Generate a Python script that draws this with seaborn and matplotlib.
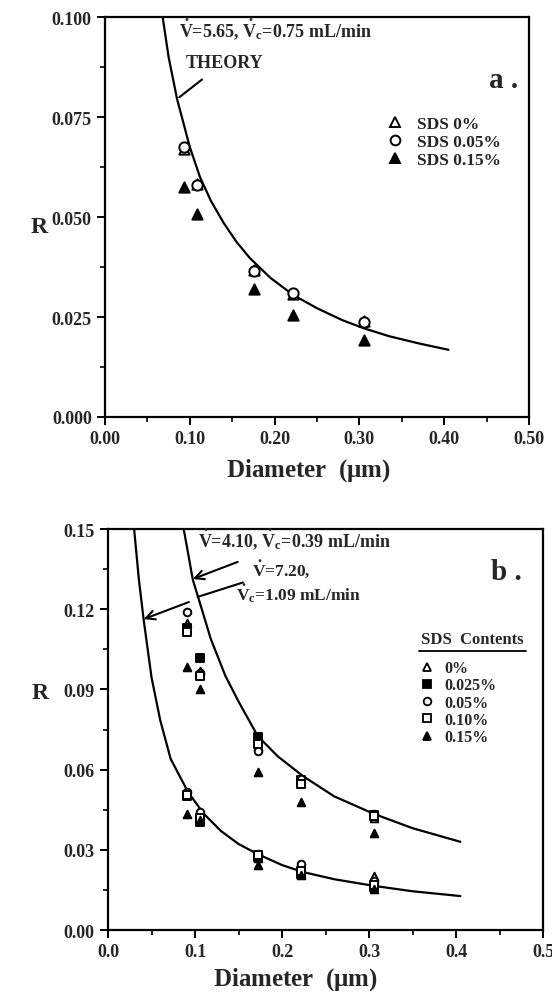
import matplotlib
matplotlib.use("Agg")
import matplotlib.pyplot as plt
from matplotlib.lines import Line2D
from matplotlib.ticker import MultipleLocator, FormatStrFormatter
import seaborn as sns

a_diam = [0.093, 0.108, 0.176, 0.222, 0.305]
a_sds0 = [0.0670, 0.0582, 0.0368, 0.0308, 0.0240]
a_sds005 = [0.0675, 0.0580, 0.0365, 0.0310, 0.0238]
a_sds015 = [0.0575, 0.0507, 0.0320, 0.0255, 0.0193]

# theory curve, panel a
a_theory_d = [0.068, 0.075, 0.085, 0.100, 0.112, 0.125, 0.140, 0.155, 0.171,
              0.195, 0.222, 0.250, 0.280, 0.305, 0.335, 0.370, 0.405]
a_theory_r = [0.100, 0.090, 0.0795, 0.0675, 0.0600, 0.0540, 0.0485, 0.0438, 0.0397,
              0.0348, 0.0305, 0.0272, 0.0242, 0.0222, 0.0202, 0.0184, 0.0168]

# ---- panel b: measured points ----
b_diam = [0.091, 0.106, 0.172, 0.222, 0.306]
# V=4.10, Vc=0.39 mL/min
b_hi = {
    "0%": [0.115, 0.097, 0.0690, 0.0550, 0.0420],
    "0.025%": [0.113, 0.1017, 0.0722, 0.0560, 0.0430],
    "0.05%": [0.119, 0.0960, 0.0670, 0.0565, 0.0434],
    "0.10%": [0.1115, 0.0950, 0.0696, 0.0546, 0.0428],
    "0.15%": [0.0984, 0.0900, 0.0590, 0.0480, 0.0363],
}
# V=7.20, Vc=1.09 mL/min
b_lo = {
    "0%": [0.0510, 0.0430, 0.0270, 0.0215, 0.0202],
    "0.025%": [0.0500, 0.0404, 0.0275, 0.0210, 0.0160],
    "0.05%": [0.0516, 0.0441, 0.0284, 0.0247, 0.0183],
    "0.10%": [0.0505, 0.0420, 0.0280, 0.0220, 0.0170],
    "0.15%": [0.0434, 0.0410, 0.0243, 0.0205, 0.0155],
}

b_curve_hi_d = [0.087, 0.0975, 0.105, 0.118, 0.135, 0.150, 0.172, 0.195,
                0.224, 0.260, 0.306, 0.350, 0.405]
b_curve_hi_r = [0.150, 0.131, 0.123, 0.109, 0.095, 0.0855, 0.0726, 0.0650,
                0.0576, 0.0500, 0.0434, 0.0381, 0.0330]
b_curve_lo_d = [0.030, 0.0355, 0.041, 0.050, 0.060, 0.072, 0.092, 0.110, 0.130,
                0.150, 0.172, 0.200, 0.224, 0.260, 0.306, 0.350, 0.405]
b_curve_lo_r = [0.150, 0.131, 0.116, 0.0945, 0.0785, 0.0640, 0.0516, 0.0435, 0.0370,
                0.0322, 0.0284, 0.0243, 0.0217, 0.0190, 0.0165, 0.0145, 0.0127]

# marker style per SDS content: (marker, filled)
b_style = {
    "0%": ("^", False),
    "0.025%": ("s", True),
    "0.05%": ("o", False),
    "0.10%": ("s", False),
    "0.15%": ("^", True),
}

sns.set_theme(style="ticks")
plt.rcParams["font.family"] = ["Liberation Serif", "DejaVu Serif"]
plt.rcParams["font.weight"] = "bold"
plt.rcParams["axes.labelweight"] = "bold"
plt.rcParams["mathtext.fontset"] = "custom"
plt.rcParams["mathtext.rm"] = "Liberation Serif:bold"
plt.rcParams["mathtext.it"] = "Liberation Serif:bold"
plt.rcParams["mathtext.bf"] = "Liberation Serif:bold"

fig = plt.figure(figsize=(5.52, 9.95), dpi=100)
ax_a = fig.add_axes([0.1902, 0.5799, 0.7681, 0.4020])
ax_b = fig.add_axes([0.1957, 0.0643, 0.7880, 0.4030])


def style_axes(ax):
    for sp in ax.spines.values():
        sp.set_linewidth(1.6)
        sp.set_color("black")
    ax.tick_params(which="major", direction="out", length=6, width=1.4,
                   labelsize=13, color="black")
    ax.tick_params(which="minor", direction="out", length=3.5, width=1.2, color="black")
    for lab in ax.get_xticklabels() + ax.get_yticklabels():
        lab.set_fontweight("bold")


def scatter(ax, x, y, marker, filled, size):
    sns.scatterplot(x=x, y=y, ax=ax, marker=marker, s=size,
                    color="black" if filled else "white",
                    edgecolor="black", linewidth=1.4, zorder=3, legend=False)


def vdot(v, vc):
    return r"$\dot{\mathrm{V}}$=" + v + r", $\dot{\mathrm{V}}_{\mathrm{c}}$=" + vc + " mL/min"


# ---------------- panel a ----------------
sns.lineplot(x=a_theory_d, y=a_theory_r, ax=ax_a, color="black", lw=1.6,
             sort=False, estimator=None)
scatter(ax_a, a_diam, a_sds0, "^", False, 55)
scatter(ax_a, a_diam, a_sds005, "o", False, 55)
scatter(ax_a, a_diam, a_sds015, "^", True, 55)

ax_a.set_xlim(0, 0.5)
ax_a.set_ylim(0, 0.1)
ax_a.xaxis.set_major_locator(MultipleLocator(0.1))
ax_a.xaxis.set_minor_locator(MultipleLocator(0.05))
ax_a.yaxis.set_major_locator(MultipleLocator(0.025))
ax_a.yaxis.set_minor_locator(MultipleLocator(0.0125))
ax_a.xaxis.set_major_formatter(FormatStrFormatter("%.2f"))
ax_a.yaxis.set_major_formatter(FormatStrFormatter("%.3f"))
style_axes(ax_a)
ax_a.set_xlabel(r"Diameter  ($\mathrm{\mu}$m)", fontsize=18, fontweight="bold")
ax_a.xaxis.set_label_coords(0.48, -0.098)
ax_a.set_ylabel("R", fontsize=17, fontweight="bold", rotation=0)
ax_a.yaxis.set_label_coords(-0.155, 0.45)

ax_a.text(0.175, 0.972, vdot("5.65", "0.75"), transform=ax_a.transAxes,
          fontsize=13, ha="left", va="center")
ax_a.text(0.19, 0.887, "THEORY", transform=ax_a.transAxes,
          fontsize=13, ha="left", va="center")
ax_a.annotate("", xy=(0.085, 0.0795), xytext=(0.117, 0.0848),
              arrowprops=dict(arrowstyle="-", lw=1.5, color="black"))
ax_a.text(0.94, 0.845, "a .", transform=ax_a.transAxes, fontsize=21,
          ha="center", va="center")

handles_a = [
    Line2D([], [], ls="none", marker="^", ms=7, mfc="white", mec="black", mew=1.4),
    Line2D([], [], ls="none", marker="o", ms=7, mfc="white", mec="black", mew=1.4),
    Line2D([], [], ls="none", marker="^", ms=7, mfc="black", mec="black", mew=1.4),
]
ax_a.legend(handles_a, ["SDS 0%", "SDS 0.05%", "SDS 0.15%"], loc="upper left",
            bbox_to_anchor=(0.663, 0.752), frameon=False, fontsize=12.5,
            handlelength=1.0, handletextpad=0.8, labelspacing=0.1,
            borderpad=0, borderaxespad=0)

# ---------------- panel b ----------------
sns.lineplot(x=b_curve_hi_d, y=b_curve_hi_r, ax=ax_b, color="black", lw=1.6,
             sort=False, estimator=None)
sns.lineplot(x=b_curve_lo_d, y=b_curve_lo_r, ax=ax_b, color="black", lw=1.6,
             sort=False, estimator=None)
for key, (mk, filled) in b_style.items():
    scatter(ax_b, b_diam, b_hi[key], mk, filled, 30)
    scatter(ax_b, b_diam, b_lo[key], mk, filled, 30)

ax_b.set_xlim(0, 0.5)
ax_b.set_ylim(0, 0.15)
ax_b.xaxis.set_major_locator(MultipleLocator(0.1))
ax_b.xaxis.set_minor_locator(MultipleLocator(0.05))
ax_b.yaxis.set_major_locator(MultipleLocator(0.03))
ax_b.yaxis.set_minor_locator(MultipleLocator(0.015))
ax_b.xaxis.set_major_formatter(FormatStrFormatter("%.1f"))
ax_b.yaxis.set_major_formatter(FormatStrFormatter("%.2f"))
style_axes(ax_b)
ax_b.set_xlabel(r"Diameter  ($\mathrm{\mu}$m)", fontsize=18, fontweight="bold")
ax_b.xaxis.set_label_coords(0.43, -0.088)
ax_b.set_ylabel("R", fontsize=17, fontweight="bold", rotation=0)
ax_b.yaxis.set_label_coords(-0.156, 0.565)

ax_b.text(0.103, 0.1465, vdot("4.10", "0.39"), fontsize=13, ha="left", va="center")
ax_b.annotate("", xy=(0.0975, 0.1313), xytext=(0.149, 0.1377),
              arrowprops=dict(arrowstyle="->", lw=1.5, color="black", mutation_scale=16,
                              shrinkA=0, shrinkB=0))
ax_b.text(0.166, 0.1352, r"$\dot{\mathrm{V}}$=7.20,", fontsize=12.5, ha="left", va="center")
ax_b.text(0.147, 0.1262, r"$\dot{\mathrm{V}}_{\mathrm{c}}$=1.09 mL/min", fontsize=12.5,
          ha="left", va="center")
ax_b.annotate("", xy=(0.103, 0.1246), xytext=(0.155, 0.130),
              arrowprops=dict(arrowstyle="-", lw=1.5, color="black", shrinkA=0, shrinkB=0))
ax_b.annotate("", xy=(0.041, 0.1163), xytext=(0.093, 0.1227),
              arrowprops=dict(arrowstyle="->", lw=1.5, color="black", mutation_scale=16,
                              shrinkA=0, shrinkB=0))
ax_b.text(0.915, 0.893, "b .", transform=ax_b.transAxes, fontsize=21,
          ha="center", va="center")

ax_b.text(0.955, 0.726, "SDS  Contents", transform=ax_b.transAxes, fontsize=12,
          ha="right", va="center")
ax_b.plot([0.715, 0.962], [0.697, 0.697], transform=ax_b.transAxes, color="black",
          lw=1.3, clip_on=False)

handles_b = []
for key, (mk, filled) in b_style.items():
    handles_b.append(Line2D([], [], ls="none", marker=mk, ms=5.5,
                            mfc="black" if filled else "white", mec="black", mew=1.3))
ax_b.legend(handles_b, list(b_style.keys()), loc="upper left",
            bbox_to_anchor=(0.715, 0.673), frameon=False, fontsize=11.5,
            handlelength=1.0, handletextpad=0.6, labelspacing=0.08,
            borderpad=0, borderaxespad=0)

fig.savefig("out.png", dpi=100)
